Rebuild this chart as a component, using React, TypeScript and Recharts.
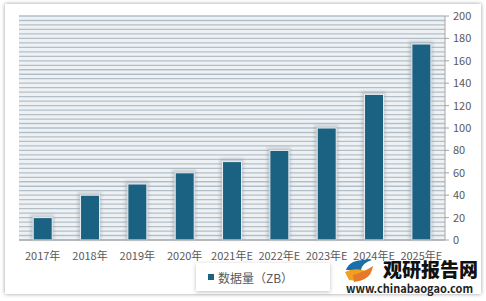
import React from 'react';
import { BarChart, Bar, XAxis, YAxis, CartesianGrid } from 'recharts';

const years = ['2017年', '2018年', '2019年', '2020年', '2021年E', '2022年E', '2023年E', '2024年E', '2025年E'];
const dataVolume = [20, 40, 50, 60, 70, 80, 100, 130, 175];
const yTicks = [0, 20, 40, 60, 80, 100, 120, 140, 160, 180, 200];
const gridValues = Array.from({ length: 51 }, (_, i) => i * 4);
const edgeTicks = [0, 1, 2, 3, 4, 5, 6, 7, 8, 9];

const data = years.map((year, i) => ({ year, value: dataVolume[i] }));

const BAR_COLOR = '#1b6282';
const FONT = '"Noto Sans CJK SC", "Noto Sans", sans-serif';

const ShadowBar = (props: any) => {
  const { x, y, width, height } = props;
  if (!height || height <= 0) return null;
  return (
    <g>
      <rect x={x - 3} y={y - 3} width={width + 5} height={height + 3} fill="#9aa3aa" opacity={0.45} filter="url(#barBlur)" />
      <rect x={x} y={y} width={width} height={height} fill={BAR_COLOR} stroke="#e8eef2" strokeWidth={1} />
    </g>
  );
};

const App = () => {
  const gridGen = ({ yAxis, offset }: any) =>
    gridValues.map((v) =>
      yAxis && typeof yAxis.scale === 'function'
        ? yAxis.scale(v)
        : offset.top + offset.height * (1 - v / 200)
    );

  return (
    <div style={{ position: 'absolute', left: 0, top: 0, width: 486, height: 301, background: '#ffffff', fontFamily: FONT }}>
      <div style={{ position: 'absolute', left: 5, top: 4, width: 476, height: 290, background: '#fff', boxShadow: '0 0 4px rgba(0,0,0,0.4)' }} />
      <div style={{ position: 'absolute', left: 0, top: 0 }}>
        <BarChart width={486} height={301} data={data} margin={{ top: 16, right: 0, left: 19, bottom: 36 }} barCategoryGap="30%">
          <defs>
            <filter id="barBlur" x="-50%" y="-50%" width="200%" height="200%">
              <feGaussianBlur stdDeviation="1.5" />
            </filter>
          </defs>
          <CartesianGrid
            vertical={false}
            stroke="#b4bec7"
            strokeWidth={1.3}
            fill="#eef2f5"
            fillOpacity={1}
            horizontalCoordinatesGenerator={gridGen}
          />
          <XAxis
            xAxisId="edge"
            type="number"
            domain={[0, 9]}
            ticks={edgeTicks}
            height={0}
            tick={false}
            axisLine={false}
            tickLine={{ stroke: '#a6a6a6' }}
            tickSize={5}
          />
          <XAxis
            xAxisId="cat"
            dataKey="year"
            height={25}
            axisLine={{ stroke: '#a6a6a6' }}
            tickLine={false}
            tick={{ fontSize: 11, fill: '#595959', fontFamily: FONT }}
            tickMargin={6}
            interval={0}
          />
          <YAxis
            orientation="right"
            width={41}
            domain={[0, 200]}
            ticks={yTicks}
            axisLine={{ stroke: '#a6a6a6' }}
            tickLine={{ stroke: '#a6a6a6' }}
            tickSize={4}
            tick={{ fontSize: 11, fill: '#595959', fontFamily: FONT }}
            tickMargin={4}
          />
          <Bar xAxisId="cat" dataKey="value" fill={BAR_COLOR} shape={ShadowBar} isAnimationActive={false} />
        </BarChart>
      </div>
      <div
        style={{
          position: 'absolute', left: 196, top: 263, width: 134, height: 28,
          background: '#fff', boxShadow: '0 1px 4px rgba(0,0,0,0.25)',
          display: 'flex', alignItems: 'center', fontSize: 12, color: '#595959'
        }}
      >
        <span style={{ display: 'inline-block', width: 6, height: 6, background: BAR_COLOR, marginLeft: 12, marginRight: 4 }} />
        <span>数据量（ZB）</span>
      </div>
      <svg style={{ position: 'absolute', left: 340, top: 254 }} width={146} height={44}>
        <path d="M6 16 Q10 4 32 6 Q22 9 21 16 Z" fill="#1b6fa8" />
        <path d="M5 18 Q16 12 31 19 Q25 29 9 26 Z" fill="#f0a020" />
        <path d="M13 21 Q24 18 33 12 Q31 26 14 28 Z" fill="#e7792a" />
        <text x={43} y={23} fontSize={19} fontWeight={900} fill="#111" fontFamily={FONT}>观研报告网</text>
        <text x={6} y={39} fontSize={11} fontWeight={700} fill="#222" fontFamily={FONT}>www.chinabaogao.com</text>
      </svg>
    </div>
  );
};

export default App;
